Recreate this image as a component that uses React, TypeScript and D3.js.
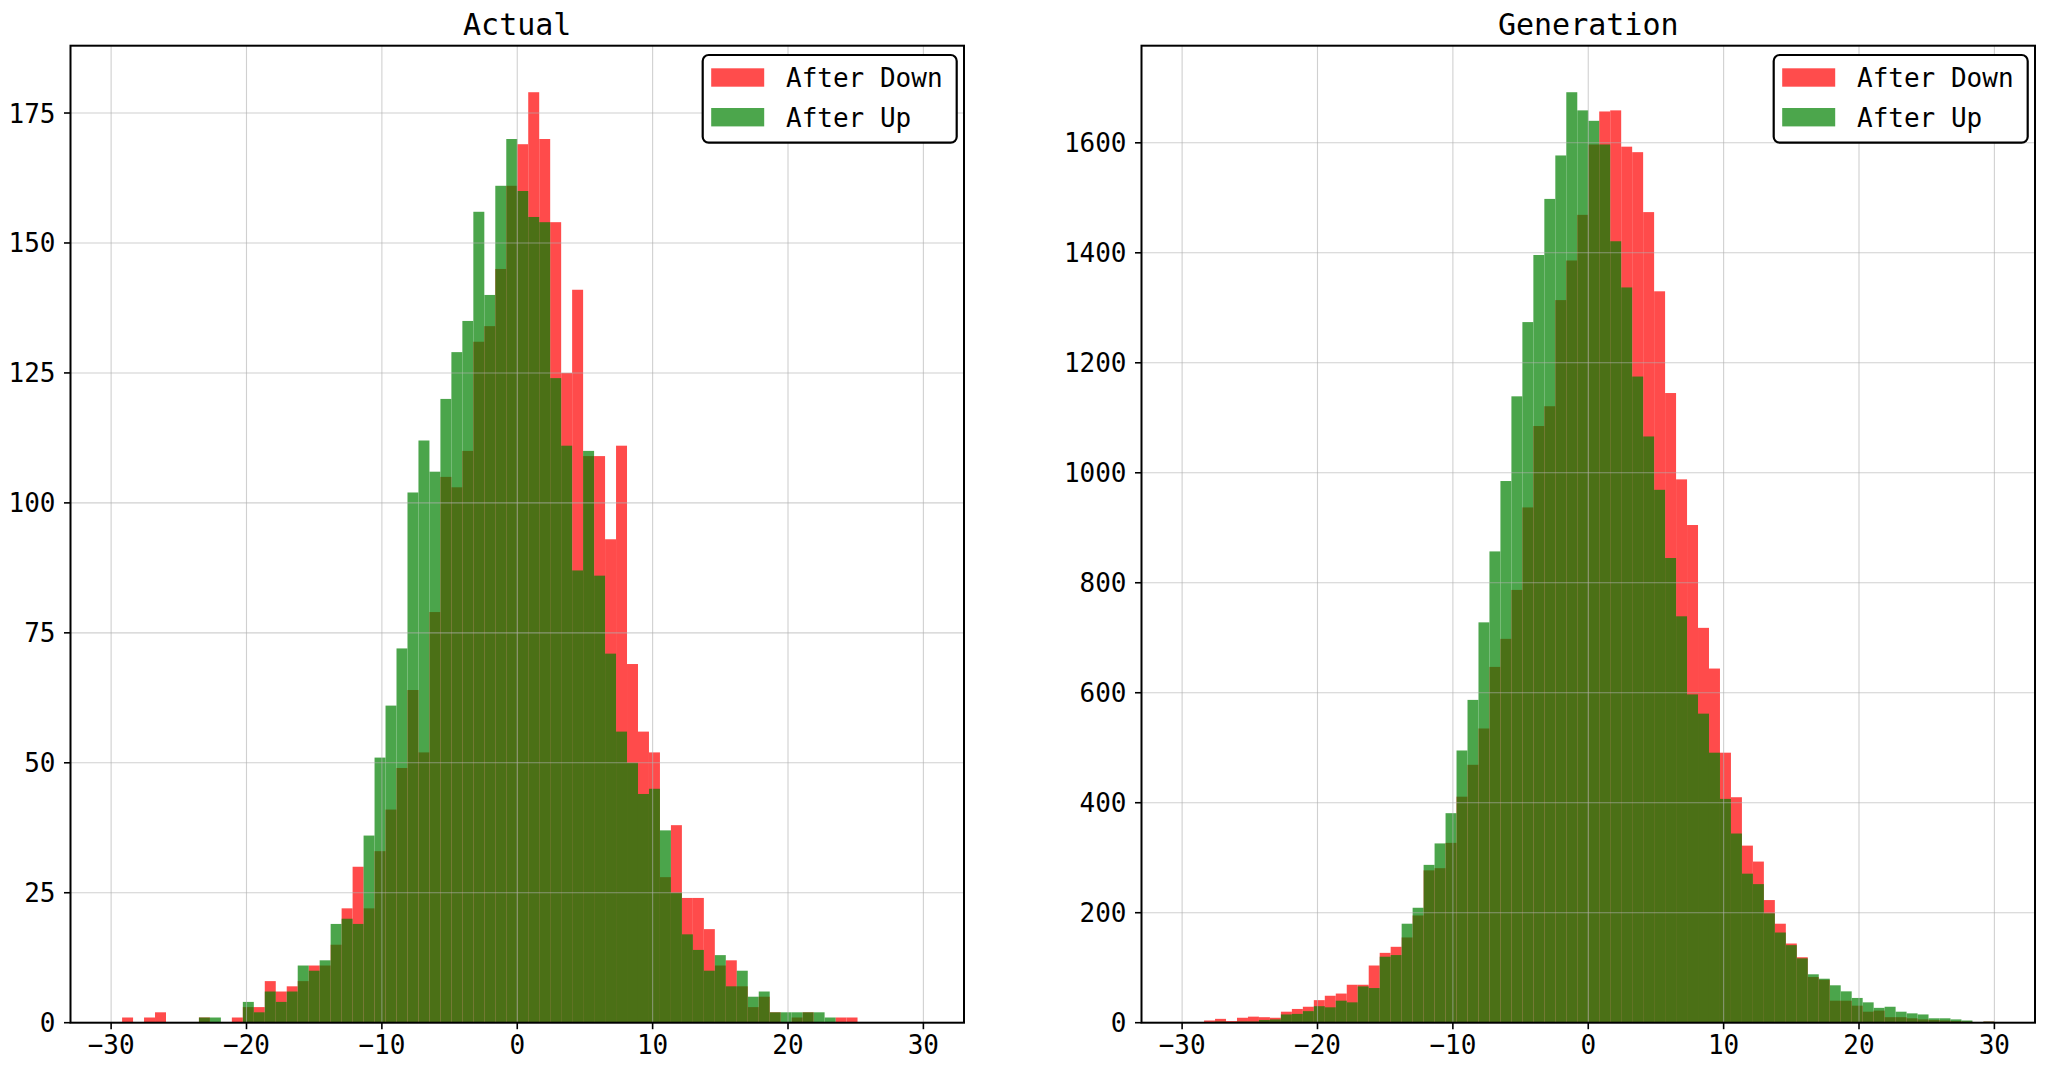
import * as d3 from "d3";

// ── Histogram bins (shared by both panels) ─────────────────────────────────
const BIN_LO = -30;
const BIN_HI = 30;
const BIN_COUNT = 74;

// ── Counts per bin ─────────────────────────────────────────────────────────
const ACTUAL_DOWN = [
  0, 1, 0, 1, 2, 0, 0, 0, 1, 0,
  0, 1, 3, 3, 8, 6, 7, 8, 11, 11,
  15, 22, 30, 22, 33, 41, 49, 64, 52, 79,
  105, 103, 110, 131, 134, 145, 161, 169, 179, 170,
  154, 125, 141, 109, 109, 93, 111, 69, 56, 52,
  28, 38, 24, 24, 18, 11, 12, 7, 3, 5,
  2, 0, 1, 2, 0, 0, 1, 1, 0, 0,
  0, 0, 0, 0,
];
const ACTUAL_UP = [
  0, 0, 0, 0, 0, 0, 0, 0, 1, 1,
  0, 0, 4, 2, 6, 4, 6, 11, 10, 12,
  19, 20, 19, 36, 51, 61, 72, 102, 112, 106,
  120, 129, 135, 156, 140, 161, 170, 160, 155, 154,
  124, 111, 87, 110, 86, 71, 56, 50, 44, 45,
  37, 25, 17, 14, 10, 13, 7, 10, 5, 6,
  2, 2, 2, 2, 2, 1, 0, 0, 0, 0,
  0, 0, 0, 0,
];
const GEN_DOWN = [
  0, 0, 4, 7, 3, 9, 11, 10, 9, 20,
  25, 29, 41, 49, 53, 69, 69, 104, 127, 138,
  155, 195, 277, 281, 327, 411, 469, 535, 647, 698,
  787, 937, 1085, 1121, 1314, 1386, 1469, 1597, 1657, 1659,
  1593, 1583, 1474, 1330, 1145, 988, 905, 718, 644, 491,
  410, 322, 293, 223, 180, 144, 119, 83, 78, 40,
  40, 31, 20, 22, 10, 10, 8, 6, 5, 4,
  3, 2, 0, 2,
];
const GEN_UP = [
  0, 0, 0, 2, 1, 2, 2, 5, 6, 15,
  16, 21, 30, 28, 40, 37, 66, 63, 120, 123,
  180, 209, 287, 326, 381, 495, 587, 728, 857, 985,
  1139, 1274, 1396, 1498, 1577, 1692, 1659, 1640, 1597, 1421,
  1337, 1175, 1066, 969, 845, 739, 597, 562, 491, 407,
  344, 271, 252, 199, 164, 141, 117, 88, 80, 68,
  57, 45, 37, 27, 29, 20, 17, 15, 8, 8,
  6, 4, 1, 2,
];

const X_TICKS = [-30, -20, -10, 0, 10, 20, 30];
const ACTUAL_Y_TICKS = [0, 25, 50, 75, 100, 125, 150, 175];
const GEN_Y_TICKS = [0, 200, 400, 600, 800, 1000, 1200, 1400, 1600];
const SERIES_LABELS = ["After Down", "After Up"];
const SERIES_COLORS = ["#ff0000", "#008000"];
const TITLES = ["Actual", "Generation"];

// ── Layout ─────────────────────────────────────────────────────────────────
const W = 2048;
const H = 1071;
const TOP = 45.7;
const BOTTOM = 1022.7;
const PANEL_X = [
  [70.5, 964],
  [1141.5, 2035],
];
const FONT = "'DejaVu Sans Mono', monospace";

const binEdges = d3.range(BIN_COUNT + 1).map(
  (i) => BIN_LO + ((BIN_HI - BIN_LO) * i) / BIN_COUNT
);

interface PanelProps {
  title: string;
  down: number[];
  up: number[];
  yTicks: number[];
  x0: number;
  x1: number;
}

function Panel({ title, down, up, yTicks, x0, x1 }: PanelProps) {
  const x = d3.scaleLinear().domain([-33, 33]).range([x0, x1]);
  const ymax = (d3.max([...down, ...up]) ?? 1) * 1.05;
  const y = d3.scaleLinear().domain([0, ymax]).range([BOTTOM, TOP]);

  const bars = (counts: number[]) =>
    counts.map((c, i) =>
      c > 0 ? (
        <rect
          key={i}
          x={x(binEdges[i])}
          y={y(c)}
          width={x(binEdges[i + 1]) - x(binEdges[i])}
          height={y(0) - y(c)}
        />
      ) : null
    );

  // legend box, anchored to the upper right corner
  const lgX = x1 - 261.3;
  const lgY = TOP + 9.3;

  return (
    <g>
      {/* bars: red first, green on top, each group at 0.7 alpha */}
      <g fill={SERIES_COLORS[0]} opacity={0.7}>{bars(down)}</g>
      <g fill={SERIES_COLORS[1]} opacity={0.7}>{bars(up)}</g>

      {/* grid (drawn above the translucent bars) */}
      <g stroke="#b0b0b0" strokeOpacity={0.6} strokeWidth={1.1}>
        {X_TICKS.map((t) => (
          <line key={"gx" + t} x1={x(t)} x2={x(t)} y1={TOP} y2={BOTTOM} />
        ))}
        {yTicks.map((t) => (
          <line key={"gy" + t} x1={x0} x2={x1} y1={y(t)} y2={y(t)} />
        ))}
      </g>

      {/* spines */}
      <rect
        x={x0}
        y={TOP}
        width={x1 - x0}
        height={BOTTOM - TOP}
        fill="none"
        stroke="#000"
        strokeWidth={2}
      />

      {/* x ticks */}
      <g fontFamily={FONT} fontSize={26} fill="#000">
        {X_TICKS.map((t) => (
          <g key={"tx" + t}>
            <line x1={x(t)} x2={x(t)} y1={BOTTOM} y2={BOTTOM + 6.5} stroke="#000" strokeWidth={1.6} />
            <text x={x(t)} y={BOTTOM + 31} textAnchor="middle">
              {t < 0 ? "\u2212" + Math.abs(t) : String(t)}
            </text>
          </g>
        ))}
        {yTicks.map((t) => (
          <g key={"ty" + t}>
            <line x1={x0 - 6.5} x2={x0} y1={y(t)} y2={y(t)} stroke="#000" strokeWidth={1.6} />
            <text x={x0 - 15} y={y(t) + 9.5} textAnchor="end">
              {String(t)}
            </text>
          </g>
        ))}
      </g>

      {/* title */}
      <text
        x={(x0 + x1) / 2}
        y={TOP - 11}
        textAnchor="middle"
        fontFamily={FONT}
        fontSize={30}
        fill="#000"
      >
        {title}
      </text>

      {/* legend */}
      <rect
        x={lgX}
        y={lgY}
        width={254}
        height={87.7}
        rx={6}
        fill="#fff"
        stroke="#000"
        strokeWidth={2.2}
      />
      {SERIES_LABELS.map((lab, i) => (
        <g key={lab}>
          <rect
            x={lgX + 8.5}
            y={lgY + 13.3 + i * 39.7}
            width={53}
            height={18.4}
            fill={SERIES_COLORS[i]}
            opacity={0.7}
          />
          <text
            x={lgX + 83.3}
            y={lgY + 31.8 + i * 39.7}
            fontFamily={FONT}
            fontSize={26}
            fill="#000"
          >
            {lab}
          </text>
        </g>
      ))}
    </g>
  );
}

export default function App() {
  const data = [
    { down: ACTUAL_DOWN, up: ACTUAL_UP, yTicks: ACTUAL_Y_TICKS },
    { down: GEN_DOWN, up: GEN_UP, yTicks: GEN_Y_TICKS },
  ];
  return (
    <div style={{ position: "absolute", left: 0, top: 0, background: "#fff" }}>
      <svg width={W} height={H} viewBox={`0 0 ${W} ${H}`} style={{ display: "block" }}>
        <rect width={W} height={H} fill="#fff" />
        {data.map((d, i) => (
          <Panel
            key={TITLES[i]}
            title={TITLES[i]}
            down={d.down}
            up={d.up}
            yTicks={d.yTicks}
            x0={PANEL_X[i][0]}
            x1={PANEL_X[i][1]}
          />
        ))}
      </svg>
    </div>
  );
}
